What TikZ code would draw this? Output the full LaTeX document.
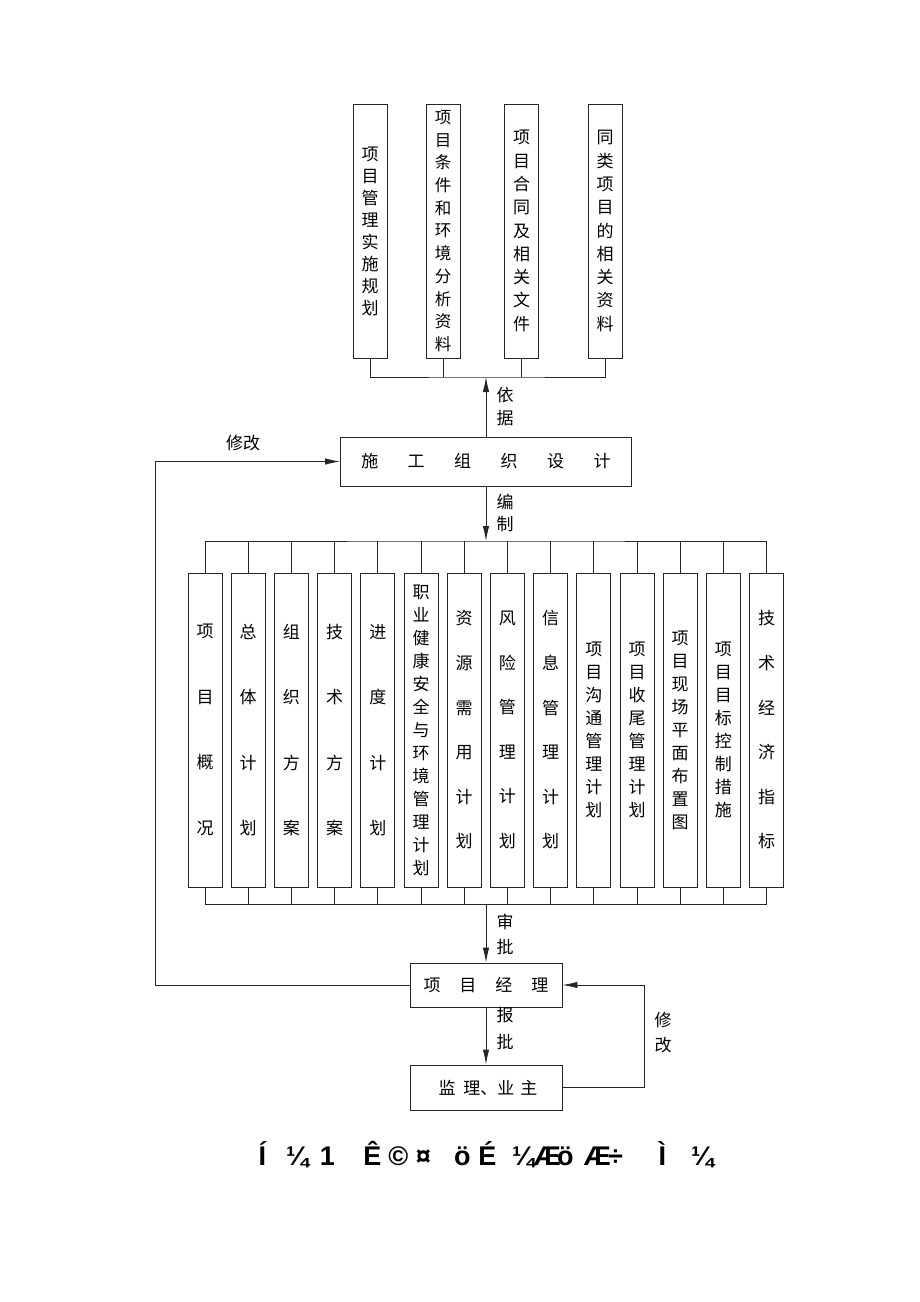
\documentclass[tikz,border=0pt]{standalone}
\usepackage{fontspec}
\setmainfont{Noto Sans CJK SC}
\newfontfamily\capfont{Liberation Sans}
\usepackage{tikz}
\usetikzlibrary{arrows.meta,calc}
\newcommand{\capglyph}[2]{\makebox[0pt]{#2}\hspace{#1pt}}
\tikzstyle{srcbox}=[draw, minimum width=34, minimum height=254, inner sep=0, align=center]
\tikzstyle{partbox}=[draw, minimum width=34, minimum height=314, inner sep=0, align=center]
\tikzstyle{flowbox}=[draw, inner sep=0]
\tikzstyle{lbl}=[inner sep=0, font=\fontsize{17}{17}\selectfont]
\tikzstyle{flow}=[-{Latex[length=15pt,width=6.5pt]}]
\begin{document}
\begin{tikzpicture}[x=1pt,y=-1pt,line width=0.9pt,draw=black!85]
\useasboundingbox (0,0) rectangle (920,1302);
% source documents
\node[srcbox,font=\fontsize{17}{22}\selectfont] (plan) at (370,231) {项\\目\\管\\理\\实\\施\\规\\划};
\node[srcbox,font=\fontsize{16.5}{22.7}\selectfont] (cond) at (443,231) {项\\目\\条\\件\\和\\环\\境\\分\\析\\资\\料};
\node[srcbox,font=\fontsize{17}{23.3}\selectfont] (contract) at (521.5,231) {项\\目\\合\\同\\及\\相\\关\\文\\件};
\node[srcbox,font=\fontsize{17}{23.3}\selectfont] (similar) at (605,231) {同\\类\\项\\目\\的\\相\\关\\资\\料};
\coordinate (topbus) at (486,377);
\draw (plan.south) |- (topbus) -| (similar.south);
\draw (cond.south) -- (cond.south |- topbus);
\draw (contract.south) -- (contract.south |- topbus);

% design
\node[flowbox,minimum width=291,minimum height=49,font=\fontsize{17}{17}\selectfont] (design) at (486,461.5)
  {施\hspace{29.5pt}工\hspace{29.5pt}组\hspace{29.5pt}织\hspace{29.5pt}设\hspace{29.5pt}计};
\draw[flow] (design.north) -- (topbus);
\node[lbl] (yi) at (505,395) {依};
\node[lbl] (ju) at (505,418) {据};

% parts of the design
\foreach \i/\txt/\sk in {1/{项\\目\\概\\况}/65.5, 2/{总\\体\\计\\划}/65.5, 3/{组\\织\\方\\案}/65.5,
  4/{技\\术\\方\\案}/65.5, 5/{进\\度\\计\\划}/65.5,
  6/{职\\业\\健\\康\\安\\全\\与\\环\\境\\管\\理\\计\\划}/23,
  7/{资\\源\\需\\用\\计\\划}/44.6, 8/{风\\险\\管\\理\\计\\划}/44.6, 9/{信\\息\\管\\理\\计\\划}/44.6,
  10/{项\\目\\沟\\通\\管\\理\\计\\划}/23, 11/{项\\目\\收\\尾\\管\\理\\计\\划}/23,
  12/{项\\目\\现\\场\\平\\面\\布\\置\\图}/23, 13/{项\\目\\目\\标\\控\\制\\措\\施}/23,
  14/{技\\术\\经\\济\\指\\标}/44.6}
  \node[partbox,font=\fontsize{17}{\sk}\selectfont] (c\i) at ({205+43.2*(\i-1)},730) {\txt};
\coordinate (midbus) at (486,541);
\coordinate (lowbus) at (486,904);
\draw (c1.north) |- (midbus) -| (c14.north);
\draw (c1.south) |- (lowbus) -| (c14.south);
\foreach \i in {2,...,13}
{
\draw (c\i.north) -- (c\i.north |- midbus);
\draw (c\i.south) -- (c\i.south |- lowbus);
}
\draw[flow] (design.south) -- (midbus);
\node[lbl] (bian) at (505,502) {编};
\node[lbl] (zhi) at (505,524) {制};

% approval
\node[flowbox,minimum width=152,minimum height=44,font=\fontsize{17}{17}\selectfont] (pm) at (486,985)
  {项\hspace{19pt}目\hspace{19pt}经\hspace{19pt}理};
\node[flowbox,minimum width=152,minimum height=45,font=\fontsize{17}{17}\selectfont] (owner) at (486,1087.5)
  {\hspace{4pt}监\hspace{8pt}理、业\hspace{6pt}主};
\draw[flow] (lowbus) -- (pm.north);
\node[lbl] (shen) at (505,922) {审};
\node[lbl] (pi) at (505,947) {批};
\draw[flow] (pm.south) -- (owner.north);
\node[lbl] (bao) at (505,1015) {报};
\node[lbl] (pi2) at (505,1042) {批};
\coordinate (rturn) at (644,1087.5);
\draw[flow] (owner.east) -- (rturn) |- (pm.east);
\node[lbl] (xiu) at (663,1020) {修};
\node[lbl] (gai) at (663,1045) {改};
\coordinate (lturn) at (155,985);
\draw[flow] (pm.west) -- (lturn) |- (design.west);
\node[lbl] (xiugai) at (243,443) {修改};

% caption
\node[inner sep=0,anchor=west,font=\capfont\bfseries\fontsize{27}{27}\selectfont] (cap) at (262,1155)
  {\capglyph{35}{Í}\capglyph{30}{¼}\capglyph{45}{1}\capglyph{26}{Ê}\capglyph{25}{©}\capglyph{39}{¤}%
   \capglyph{25}{ö}\capglyph{36}{É}\capglyph{24}{¼}\capglyph{18}{Æ}\capglyph{32}{ö}\capglyph{18}{Æ}%
   \capglyph{47}{÷}\capglyph{40}{Ì}\capglyph{0}{¼}};
\end{tikzpicture}
\end{document}
